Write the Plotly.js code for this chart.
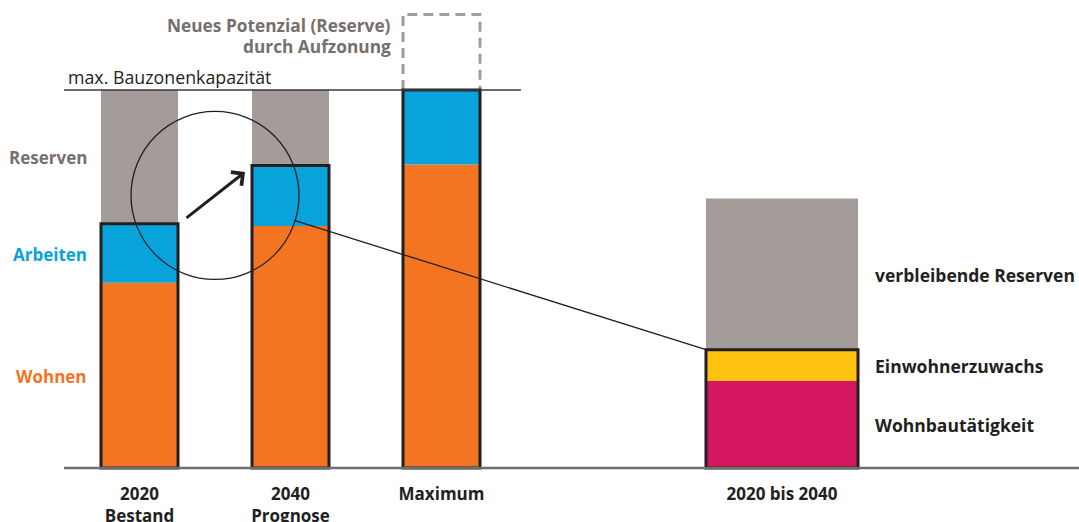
<!DOCTYPE html>
<html>
<head>
<meta charset="utf-8">
<script src="https://cdn.plot.ly/plotly-3.0.1.min.js"></script>
<style>html,body{margin:0;padding:0;background:#fff;}#chart{width:1079px;height:522px;}</style>
</head>
<body>
<div id="chart"></div>
<script>
// ---- data ----
const categories = ['2020<br>Bestand', '2040<br>Prognose', 'Maximum', '2020 bis 2040'];
const wohnen = [49, 64, 80.3];
const arbeiten = [15.6, 16, 19.7];
const reserven = [35.4, 20, 0];
const maxKapazitaet = 100;
const neuesPotenzial = 20;
const wohnbautaetigkeit = [23];
const einwohnerzuwachs = [8.3];
const verbleibendeReserven = [40];
const leftLabels = ['Reserven', 'Arbeiten', 'Wohnen'];
const rightLabels = ['verbleibende Reserven', 'Einwohnerzuwachs', 'Wohnbautätigkeit'];

// ---- layout constants ----
const xPos = [0, 1, 2, 4.255];
const wSmall = 0.51, wBig = 1.007;
const FONT = '"Open Sans", Lato, sans-serif';
const C = {orange:'#f37421', blue:'#09a3dc', gray:'#a39c98', yellow:'#fdc20f', magenta:'#d4175f', dark:'#231f20', txtGray:'#776f6c'};

const x3 = xPos.slice(0,3), x4 = [xPos[3]];
const w3 = [wSmall,wSmall,wSmall], w4 = [wBig];
const sum = (a,b) => a.map((v,i)=>v+b[i]);
const wa = sum(wohnen, arbeiten);
const grow = sum(wohnbautaetigkeit, einwohnerzuwachs);

const bar = (x, y, base, w, color, line) => ({
  type:'bar', x:x, y:y, base:base, width:w,
  marker:{color:color, line: line || {width:0}},
  hoverinfo:'skip', showlegend:false
});

const traces = [
  bar(x3, wohnen, [0,0,0], w3, C.orange),
  bar(x3, arbeiten, wohnen, w3, C.blue),
  bar(x3, reserven, wa, w3, C.gray),
  bar(x3, wa, [0,0,0], w3, 'rgba(0,0,0,0)', {color:C.dark, width:3}),
  bar(x4, wohnbautaetigkeit, [0], w4, C.magenta),
  bar(x4, einwohnerzuwachs, wohnbautaetigkeit, w4, C.yellow),
  bar(x4, verbleibendeReserven, grow, w4, C.gray),
  bar(x4, grow, [0], w4, 'rgba(0,0,0,0)', {color:C.dark, width:3})
];

const PH = 482; // plot area height in px
const px = 3.78; // pixels per unit
const xmin = -139.5/151, xmax = (1079-139.5)/151;
const ymin = -14/px, ymax = ymin + PH/px;
const py = (pix) => (PH - pix)/PH; // page pixel -> paper y

const mx0 = xPos[2]-wSmall/2, mx1 = xPos[2]+wSmall/2;
const circX = 0.5, circY = 72.1, circR = 84;
const shapes = [
  {type:'line', xref:'paper', yref:'y', x0:64/1079, x1:1, y0:0, y1:0, line:{color:'#6d6e70', width:2.5}},
  {type:'line', xref:'paper', yref:'y', x0:64/1079, x1:521/1079, y0:maxKapazitaet, y1:maxKapazitaet, line:{color:'#3a3a3a', width:1.5}},
  {type:'path', xref:'x', yref:'y', layer:'below',
   path:`M${mx0},${maxKapazitaet} L${mx0},${maxKapazitaet+neuesPotenzial} L${mx1},${maxKapazitaet+neuesPotenzial} L${mx1},${maxKapazitaet}`,
   line:{color:C.gray, width:3, dash:'10px,6px'}},
  {type:'circle', xref:'x', yref:'y', xsizemode:'pixel', ysizemode:'pixel', xanchor:circX, yanchor:circY,
   x0:-circR, x1:circR, y0:-circR, y1:circR, line:{color:C.dark, width:1.3}},
  {type:'line', xref:'x', yref:'y', x0:1.025, y0:65.5, x1:xPos[3]-wBig/2, y1:grow[0], line:{color:C.dark, width:1.3}}
];

const ann = (o) => Object.assign({showarrow:false, xref:'paper', yref:'paper', yanchor:'middle', font:{family:FONT, size:17.5, color:C.dark}}, o);
const annotations = [
  ann({x:393/1079, y:py(25), xanchor:'right', text:'<b>Neues Potenzial (Reserve)</b>', font:{family:FONT,size:17.3,color:C.txtGray}}),
  ann({x:393/1079, y:py(47), xanchor:'right', text:'<b>durch Aufzonung</b>', font:{family:FONT,size:17.3,color:C.txtGray}}),
  ann({x:66/1079, y:py(77), xanchor:'left', text:'max. Bauzonenkapazität', font:{family:FONT,size:17.8,color:C.dark}}),
  ann({x:89/1079, y:py(158), xanchor:'right', text:'<b>'+leftLabels[0]+'</b>', font:{family:FONT,size:17,color:C.txtGray}}),
  ann({x:89/1079, y:py(254), xanchor:'right', text:'<b>'+leftLabels[1]+'</b>', font:{family:FONT,size:17,color:C.blue}}),
  ann({x:89/1079, y:py(376), xanchor:'right', text:'<b>'+leftLabels[2]+'</b>', font:{family:FONT,size:17,color:C.orange}}),
  ann({x:873/1079, y:py(275), xanchor:'left', text:'<b>'+rightLabels[0]+'</b>'}),
  ann({x:873/1079, y:py(366), xanchor:'left', text:'<b>'+rightLabels[1]+'</b>'}),
  ann({x:873/1079, y:py(425), xanchor:'left', text:'<b>'+rightLabels[2]+'</b>'}),
  {xref:'x', yref:'y', x:(245-139.5)/151, y:(468-172)/px, ax:-60, ay:47, axref:'pixel', ayref:'pixel',
   showarrow:true, arrowhead:4, arrowsize:1.1, arrowwidth:3, arrowcolor:C.dark, text:''}
];

const layout = {
  width:1079, height:522,
  margin:{l:0, r:0, t:0, b:40, pad:0},
  paper_bgcolor:'#fff', plot_bgcolor:'#fff',
  barmode:'overlay', showlegend:false,
  xaxis:{range:[xmin,xmax], tickvals:xPos, ticktext:categories.map(c=>'<b>'+c+'</b>'), showgrid:false, zeroline:false, showline:false,
         ticks:'', tickfont:{family:FONT, size:17, color:C.dark}, fixedrange:true},
  yaxis:{range:[ymin,ymax], showgrid:false, zeroline:false, showline:false, showticklabels:false, ticks:'', fixedrange:true},
  shapes:shapes, annotations:annotations
};

Plotly.newPlot('chart', traces, layout, {staticPlot:true, displayModeBar:false});
</script>
</body>
</html>
